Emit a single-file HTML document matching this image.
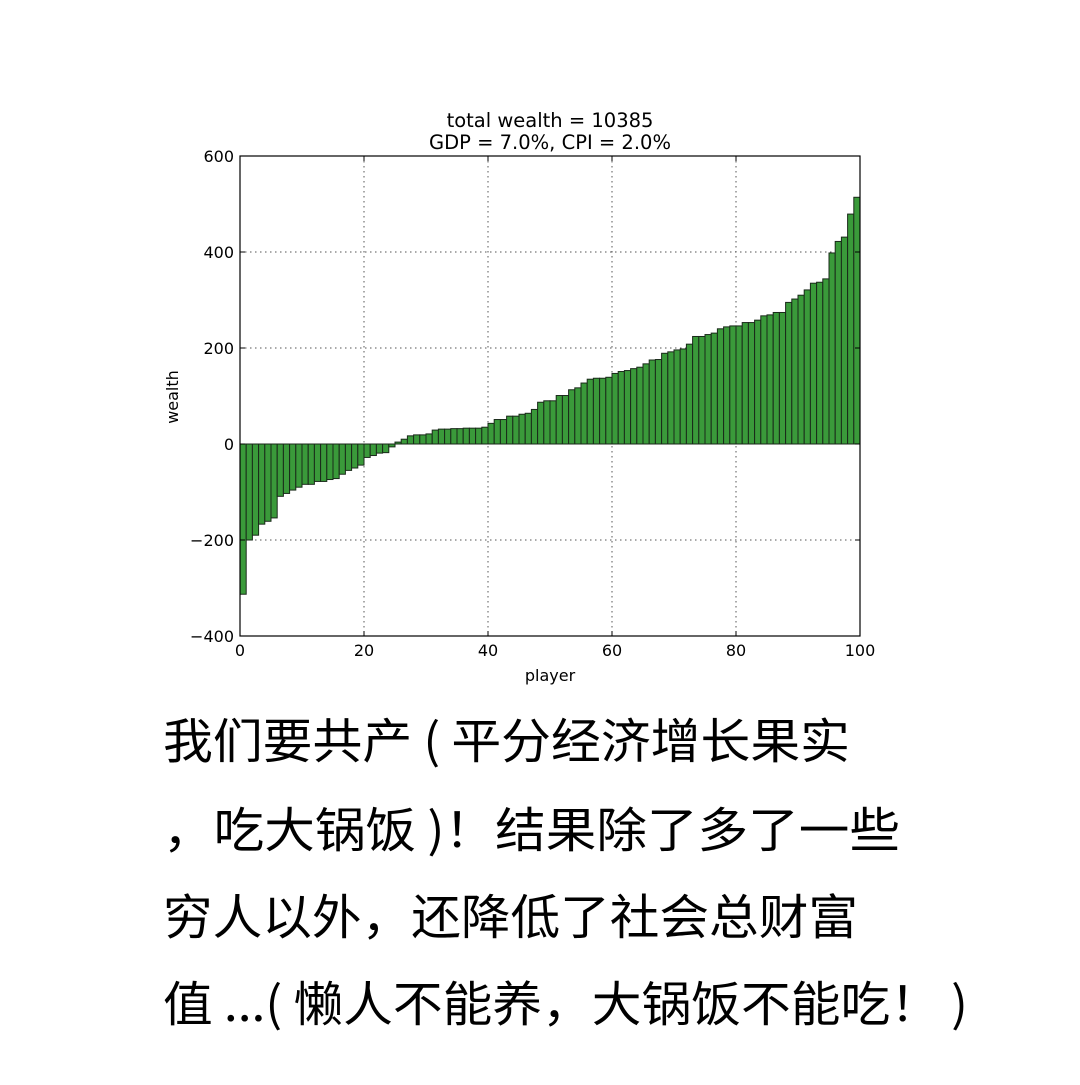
<!DOCTYPE html>
<html><head><meta charset="utf-8"><style>
html,body{margin:0;padding:0;background:#fff;}
svg text{font-family:"DejaVu Sans","Liberation Sans",sans-serif;}
</style></head><body>
<svg id="chart" width="1080" height="1080" xmlns="http://www.w3.org/2000/svg">
<rect width="1080" height="1080" fill="#fff"/>
<g id="grid"></g>
<g id="bars"></g>
<rect x="240" y="156" width="620" height="480" fill="none" stroke="#000" stroke-width="1.2"/>
<g id="ticks"></g>
<text x="550" y="127" font-size="19.5" text-anchor="middle">total wealth = 10385</text>
<text x="550" y="149" font-size="19.5" text-anchor="middle">GDP = 7.0%, CPI = 2.0%</text>
<text x="550" y="681" font-size="16" text-anchor="middle">player</text>
<text transform="translate(178,397) rotate(-90)" font-size="16" text-anchor="middle">wealth</text>
<g font-size="48" fill="#000">
<text x="163" y="758" textLength="687" lengthAdjust="spacingAndGlyphs" style="font-family:'WenQuanYi Zen Hei','Noto Sans CJK SC',sans-serif">我们要共产 ( 平分经济增长果实</text>
<text x="163" y="847" textLength="737" lengthAdjust="spacingAndGlyphs" style="font-family:'WenQuanYi Zen Hei','Noto Sans CJK SC',sans-serif">，吃大锅饭 )！结果除了多了一些</text>
<text x="163" y="934" textLength="695" lengthAdjust="spacingAndGlyphs" style="font-family:'WenQuanYi Zen Hei','Noto Sans CJK SC',sans-serif">穷人以外，还降低了社会总财富</text>
<text x="163" y="1021" textLength="805" lengthAdjust="spacingAndGlyphs" style="font-family:'WenQuanYi Zen Hei','Noto Sans CJK SC',sans-serif">值 ...( 懒人不能养，大锅饭不能吃！ )</text>
</g>
</svg>
<script>
const wealth = [-313,-200,-190,-167,-161,-154,-109,-103,-96,-90,
-84,-84,-78,-78,-74,-72,-63,-55,-50,-44,
-28,-24,-19,-18,-6,4,10,17,19,19,
21,29,31,31,32,32,33,33,33,35,
43,51,51,58,58,62,64,72,87,90,
90,101,101,113,117,127,135,137,137,139,
147,151,153,157,160,167,175,176,189,192,
196,198,208,224,224,228,231,240,244,246,
246,253,253,258,267,269,274,274,295,302,
310,321,335,337,344,398,422,431,479,514];
const xTicks = [0,20,40,60,80,100];
const yTicks = [-400,-200,0,200,400,600];
const yTickLabels = ["\u2212400","\u2212200","0","200","400","600"];
const NS="http://www.w3.org/2000/svg";
const X0=240,X1=860,Y0=636,Y1=156,xmin=0,xmax=100,ymin=-400,ymax=600;
function sx(v){return X0+(v-xmin)/(xmax-xmin)*(X1-X0);}
function sy(v){return Y0-(v-ymin)/(ymax-ymin)*(Y0-Y1);}
const grid=document.getElementById('grid'),bars=document.getElementById('bars'),ticks=document.getElementById('ticks');
function mk(tag,attrs,parent){const e=document.createElementNS(NS,tag);for(const k in attrs)e.setAttribute(k,attrs[k]);parent.appendChild(e);return e;}
xTicks.forEach(function(t){
  if(t>xmin&&t<xmax){const l=mk('line',{x1:sx(t),x2:sx(t),y1:Y1,y2:Y0,stroke:'#555','stroke-dasharray':'1.5,3.5','stroke-width':1},grid);
  
  }
  const tl=mk('line',{x1:sx(t),x2:sx(t),y1:Y0,y2:Y0-5,stroke:'#000'},ticks);
  
  
  const tt=mk('line',{x1:sx(t),x2:sx(t),y1:Y1,y2:Y1+5,stroke:'#000'},ticks);
  
  
  const tx=mk('text',{x:sx(t),y:Y0+20,'font-size':16,'text-anchor':'middle'},ticks);
  tx.textContent=t;
  
  
});
yTicks.forEach(function(t,i){
  if(t>ymin&&t<ymax){const l=mk('line',{x1:X0,x2:X1,y1:sy(t),y2:sy(t),stroke:'#555','stroke-dasharray':'1.5,3.5','stroke-width':1},grid);
  
  }
  const tl=mk('line',{x1:X0,x2:X0+5,y1:sy(t),y2:sy(t),stroke:'#000'},ticks);
  
  
  const tr=mk('line',{x1:X1-5,x2:X1,y1:sy(t),y2:sy(t),stroke:'#000'},ticks);
  
  
  const tx=mk('text',{x:X0-6,y:sy(t)+6,'font-size':16,'text-anchor':'end'},ticks);
  tx.textContent=yTickLabels[i];
  
  
});
wealth.forEach(function(v,i){
  const xa=sx(i),xb=sx(i+1),ya=sy(Math.max(v,0)),yb=sy(Math.min(v,0));
  const r=mk('rect',{x:xa,y:ya,width:xb-xa,height:Math.max(yb-ya,0.5),fill:'#3a9a3a',stroke:'#1a2a1a','stroke-width':1},bars);
  
  
});
</script>
</body></html>
